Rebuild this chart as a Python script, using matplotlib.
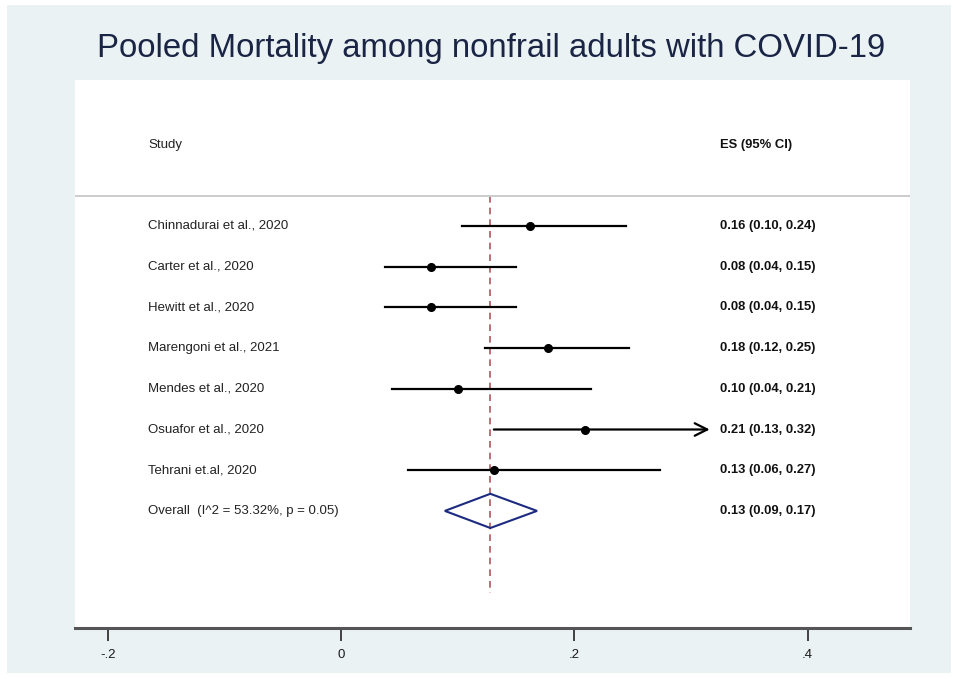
import matplotlib.pyplot as plt
from matplotlib.patches import Polygon
from matplotlib.transforms import blended_transform_factory

plt.rcParams['font.family'] = ['Liberation Sans', 'DejaVu Sans']

# data
studies = ['Chinnadurai et al., 2020', 'Carter et al., 2020', 'Hewitt et al., 2020',
           'Marengoni et al., 2021', 'Mendes et al., 2020', 'Osuafor et al., 2020',
           'Tehrani et.al, 2020']
es = [0.162, 0.077, 0.077, 0.177, 0.100, 0.209, 0.131]
lo = [0.104, 0.038, 0.038, 0.123, 0.044, 0.131, 0.057]
hi = [0.244, 0.150, 0.150, 0.247, 0.214, 0.32, 0.273]
es_text = ['0.16 (0.10, 0.24)', '0.08 (0.04, 0.15)', '0.08 (0.04, 0.15)',
           '0.18 (0.12, 0.25)', '0.10 (0.04, 0.21)', '0.21 (0.13, 0.32)',
           '0.13 (0.06, 0.27)']
overall_es, overall_lo, overall_hi = 0.128, 0.089, 0.168
overall_label = 'Overall  (I^2 = 53.32%, p = 0.05)'
overall_text = '0.13 (0.09, 0.17)'
xticks = [-0.2, 0, 0.2, 0.4]
xticklabels = ['-.2', '0', '.2', '.4']
clip_x = 0.316  # CI clipped here (arrow)

W, H = 954, 679
fig = plt.figure(figsize=(W / 100, H / 100), dpi=100)
fig.patch.set_facecolor('white')
bg = fig.add_axes([7 / W, 6 / H, 944 / W, 668 / H])
bg.set_facecolor('#EAF2F3')
bg.set_xticks([])
bg.set_yticks([])
for s in bg.spines.values():
    s.set_visible(False)
bg.set_zorder(0)

ax = fig.add_axes([75 / W, 1 - 628 / H, 835 / W, (628 - 80) / H])
ax.set_zorder(1)
ax.set_facecolor('white')
ax.set_xlim(-0.228, 0.4877)
ax.set_ylim(9.877, -3.587)

for s in ['top', 'right', 'left']:
    ax.spines[s].set_visible(False)
ax.spines['bottom'].set_color('#555555')
ax.spines['bottom'].set_linewidth(2.2)
ax.set_yticks([])
ax.set_xticks(xticks)
ax.set_xticklabels(xticklabels, fontsize=9.5, color='#1a1a1a')
ax.tick_params(axis='x', length=9, width=1.3, color='#333333', pad=6)

tr = blended_transform_factory(ax.transAxes, ax.transData)
orow = len(studies)
fs_lab = 9.5
fs_es = 9.4

# header and separator
ax.text(0.0874, -2, 'Study', transform=tr, fontsize=fs_lab, va='center', color='#222222')
ax.text(0.7725, -2, 'ES (95% CI)', transform=tr, fontsize=fs_es, va='center',
        fontweight='bold', color='#111111')
ax.plot([0, 1], [-0.74, -0.74], transform=tr, color='#c8c8c8', lw=1.3)

# reference line at pooled estimate
ax.plot([overall_es, overall_es], [-0.74, 9.02], color='#b5545c', lw=1.2,
        ls=(0, (4, 3)), zorder=1)

for i, (name, e, l, h, t) in enumerate(zip(studies, es, lo, hi, es_text)):
    ax.text(0.0874, i, name, transform=tr, fontsize=fs_lab, va='center', color='#222222')
    ax.text(0.7725, i, t, transform=tr, fontsize=fs_es, va='center',
            fontweight='bold', color='#111111')
    if h > clip_x:
        ax.annotate('', xy=(clip_x, i), xytext=(l, i),
                    arrowprops=dict(arrowstyle='->,head_length=0.9,head_width=0.45',
                                    color='black', lw=1.6, shrinkA=0, shrinkB=0))
    else:
        ax.plot([l, h], [i, i], color='black', lw=1.6, zorder=2)
    ax.plot(e, i, 'o', color='black', ms=5.5, zorder=3)

# overall diamond
ax.add_patch(Polygon([[overall_lo, orow], [overall_es, orow - 0.42],
                      [overall_hi, orow], [overall_es, orow + 0.42]],
                     closed=True, fill=False, edgecolor='#1c2a80', lw=1.5, zorder=3))
ax.text(0.0874, orow, overall_label, transform=tr, fontsize=fs_lab, va='center', color='#222222')
ax.text(0.7725, orow, overall_text, transform=tr, fontsize=fs_es, va='center',
        fontweight='bold', color='#111111')

fig.text(491 / W, 1 - 48 / H, 'Pooled Mortality among nonfrail adults with COVID-19',
         ha='center', va='center', fontsize=23.7, color='#1a2445')

fig.savefig('out.png', dpi=100)
